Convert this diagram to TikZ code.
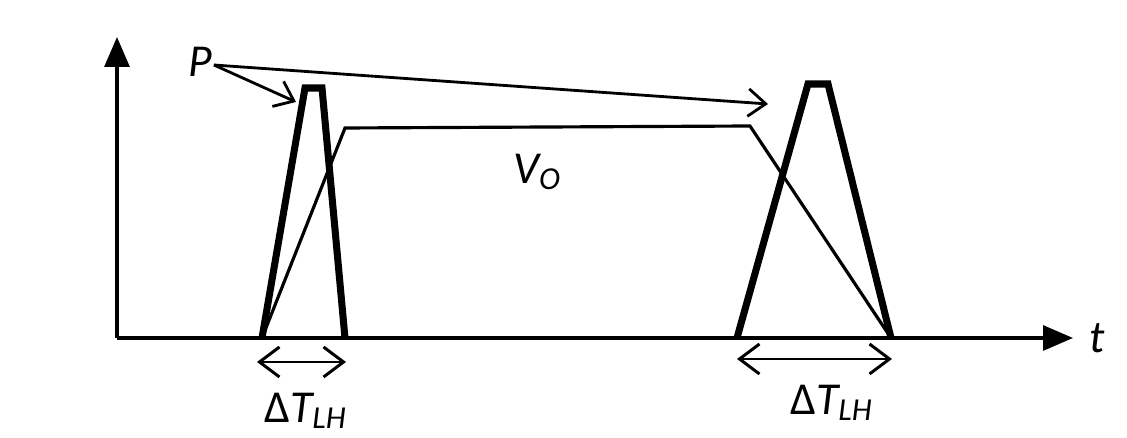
\documentclass[tikz,border=0pt]{standalone}
\usepackage{fontspec}
\setmainfont{Carlito}
\usetikzlibrary{arrows.meta, positioning, calc}

\begin{document}
\begin{tikzpicture}[
    x=0.02cm, y=-0.02cm,
    axis/.style={line width=1.8pt, -{Triangle[length=6mm, width=5mm]}},
    pulse/.style={line width=4pt, line join=miter},
    vout/.style={line width=1.8pt},
    pointer/.style={line width=1.6pt, -{Straight Barb[length=3.5mm, width=5.5mm]}},
    span/.style={line width=1.7pt, {Straight Barb[length=4mm, width=6mm]}-{Straight Barb[length=4mm, width=6mm]}},
    lbl/.style={font=\fontsize{26}{30}\selectfont\itshape, inner sep=1pt}
]
\useasboundingbox (0,0) rectangle (1127,438);
% axes
\coordinate (O) at (117,338);
\coordinate (ytop) at (117,37);
\coordinate (xend) at (1073,338);
\draw[axis] (O) -- (ytop);
\draw[axis] (O) -- (xend);
\node[lbl, right=8pt of xend] (t) {t};
% pulses P
\draw[pulse] (262,338) -- (305,88) -- (322,88) -- (345,338);
\draw[pulse] (737,338) -- (808,84) -- (828,84) -- (891,338);
% output V_O
\draw[vout] (262,338) -- (345,128) -- (750,126) -- (891,338);
\node[lbl] (vo) at (537,172) {V\textsubscript{O}};
% P labels
\node[lbl] (P) at (200,62) {P};
\coordinate (p1) at (296,102);
\coordinate (p2) at (768,104);
\draw[pointer] (P.east) ++(0,3) coordinate (p0) (p0) -- (p1);
\draw[pointer] (p0) -- (p2);
% delta T
\coordinate (a1) at (257,362);
\coordinate (b1) at (346,362);
\coordinate (a2) at (737,359);
\coordinate (b2) at (892,359);
\draw[span] (a1) -- (b1);
\draw[span] (a2) -- (b2);
\node[lbl] (dt1) at ($(a1)!0.5!(b1)+(4,49)$) {\upshape Δ\itshape T\textsubscript{LH}};
\node[lbl] (dt2) at ($(a2)!0.5!(b2)+(17,44)$) {\upshape Δ\itshape T\textsubscript{LH}};
\end{tikzpicture}
\end{document}
